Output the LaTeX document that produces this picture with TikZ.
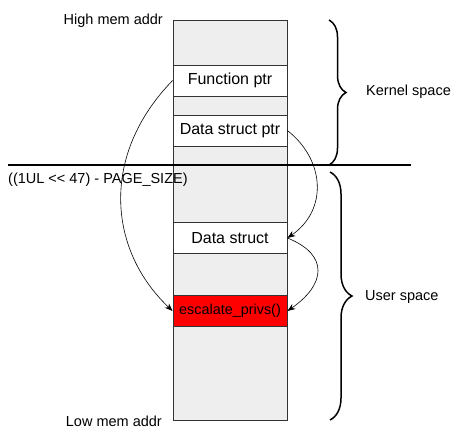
\documentclass[tikz,border=0pt]{standalone}
\usepackage{fontspec}
\setmainfont{Liberation Sans}
\usetikzlibrary{arrows.meta, decorations.pathreplacing}
\definecolor{memgray}{HTML}{EEEEEE}
\definecolor{cellline}{HTML}{333333}

\begin{document}
\begin{tikzpicture}[x=1pt, y=-1pt,
  cell/.style={draw=cellline, line width=0.8pt, fill=white, minimum width=114pt,
    minimum height=31pt, inner sep=0pt, font=\fontsize{16}{19}\selectfont},
  lbl/.style={inner sep=0pt, font=\fontsize{14.5}{17}\selectfont},
  ptr/.style={-{Stealth[length=8pt,width=6pt]}, line width=0.6pt},
  bracket/.style={decorate, decoration={brace, amplitude=#1}, line width=1.5pt}]
  \useasboundingbox (0,0) rectangle (457,440);
  % memory column
  \node (mem) at (230,220) [draw=cellline, line width=0.8pt, fill=memgray,
    minimum width=114pt, minimum height=400pt] {};
  \node[cell] (fptr) at (230,80.5) {Function ptr};
  \node[cell] (dptr) at (230,130.5) {Data struct ptr};
  \node[cell] (ds)   at (230,238) {Data struct};
  \node[cell, fill=red, font=\fontsize{14.4}{17}\selectfont] (esc) at (230,311) {escalate\_privs()};
  % kernel/user boundary
  \coordinate (bl) at (8,165);
  \coordinate (br) at (411,165);
  \draw[line width=1.2pt] (bl) -- (br);
  % labels
  \node[lbl, anchor=east] (high) at (163,21) {High mem addr};
  \node[lbl, anchor=west] (bound) at (8,180) {((1UL <{}< 47) - PAGE\_SIZE)};
  \node[lbl, anchor=east] (low) at (162,421) {Low mem addr};
  \node[lbl, anchor=west] (kern) at (366,92) {Kernel space};
  \node[lbl, anchor=west] (user) at (365,297) {User space};
  % braces
  \coordinate (kt) at (329,20);
  \coordinate (kb) at (329,165);
  \coordinate (ut) at (330,172);
  \coordinate (ub) at (330,420);
  \draw[bracket=17pt] (kt) -- (kb);
  \draw[bracket=22pt] (ut) -- (ub);
  % pointers
  \draw[ptr] (fptr.west) .. controls (100,155) and (108,250) .. (esc.west);
  \draw[ptr] (dptr.east) .. controls (325,160) and (328,210) .. (ds.east);
  \draw[ptr] (ds.east) .. controls (330,255) and (325,285) .. (esc.east);
\end{tikzpicture}
\end{document}
